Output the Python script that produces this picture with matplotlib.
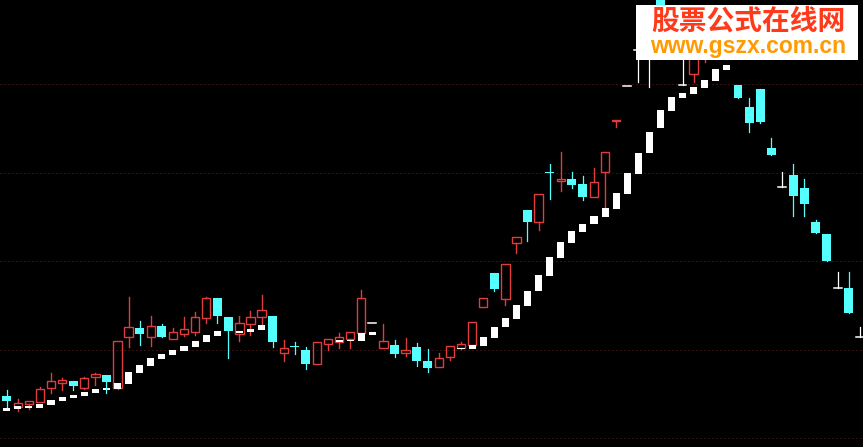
import matplotlib
matplotlib.use('Agg')
import matplotlib.pyplot as plt
from matplotlib.patches import Rectangle
import numpy as np

# K线数据 (价格单位: 图上高度)
opens = [51, 40, 43, 45, 59, 64, 66, 59, 70, 72,
         59, 110, 119, 110, 121, 108, 113, 115, 129, 149,
         130, 113, 123, 130, 131, 94, 100.6, 97, 83, 103,
         105, 108, 114, 124, 99, 102, 94, 100, 86, 80,
         90, 99, 102, 140, 174, 148, 204, 237, 225, 274.6,
         266, 268, 263, 250, 275, 326.4, 361, 397, 420, 450,
         400, 362, 373, 395, 425, 410, 362, 340, 358, 299,
         260, 272, 259, 225, 213, 159, 159, 110]
highs = [57, 48, 46, 60, 74, 69, 66, 70, 74, 72,
         106, 150, 126, 131, 123, 119, 130, 135, 150, 149,
         130, 131, 136, 152, 131, 107, 105, 100, 105, 108,
         114, 115, 157, 124, 123, 107, 109, 104, 98, 94,
         101, 105, 125, 149, 174, 183, 210, 237, 253, 283,
         295, 275, 271, 279, 295, 327.4, 361, 425, 430, 455,
         425, 405, 420, 430, 432, 415, 362, 349, 358, 309,
         275, 283, 268, 227, 213, 175, 175, 120]
lows = [40, 36, 38, 45, 54, 57, 57, 58, 62, 54,
        58, 100, 102, 101, 110, 108, 111, 112, 124, 124,
        89, 106, 112, 123, 100, 86, 93, 78, 83, 97,
        99, 99, 114, 124, 99, 90, 91, 81, 75, 80,
        87, 98, 102, 140, 156, 142, 194, 206, 217, 248,
        256, 259, 247, 250, 239, 320, 361, 365, 360, 400,
        395, 362, 365, 385, 395, 388, 349, 315, 324, 292,
        260, 231, 231, 214, 186, 159, 134, 110]
closes = [46, 44, 46, 58, 66, 67, 61, 69, 73, 65,
          106, 120, 113, 121, 110, 115, 118, 130, 149, 131,
          116, 124, 130, 137, 105, 99, 100, 83, 105, 108,
          110, 115, 149, 124, 106, 93, 97, 86, 79, 89,
          101, 103, 125, 149, 158, 183, 210, 225, 253, 274,
          268, 262, 250, 265, 295, 327.4, 361, 397, 420, 405,
          420, 362, 410, 420, 400, 392, 349, 324, 325, 292,
          260, 251, 243, 214, 186, 159, 134, 110]

# 白色指标块 (上沿/下沿, nan 表示无)
nan = np.nan
white_top = [39, 41, 41, 43, 47, 50, 52, 55, 58, 59,
             64, 75, 82, 89, 93, 97, 101, 106, 112, 116,
             nan, 116, 118, 122, nan, nan, nan, nan, nan, nan,
             107, 107, 114, 115, nan, nan, nan, nan, nan, nan,
             nan, 99, 102, 110, 120, 129, 142, 156, 172, 190,
             205, 216, 223, 231, 239, 254, 274, 294, 315, 337,
             350, 354, 360, 367, 378, 382]
white_bot = [36, 38, 39, 39, 42, 46, 49, 51, 54, 57,
             58, 63, 74, 81, 88, 92, 96, 100, 105, 111,
             nan, 114, 115, 117, nan, nan, nan, nan, nan, nan,
             105, 106, 106, 112, nan, nan, nan, nan, nan, nan,
             nan, 98, 98, 101, 109, 120, 128, 141, 156, 171,
             189, 204, 215, 223, 230, 238, 253, 273, 294, 319,
             336, 349, 353, 359, 366, 377]

grid_levels = [9.3, 97.5, 186.5, 274.3, 363]

RED = '#e03c3c'
CYAN = '#54ffff'
GRID = '#6a1c1c'

fig = plt.figure(figsize=(8.63, 4.47), dpi=100, facecolor='black')
ax = fig.add_axes([0, 0, 1, 1])
ax.set_facecolor('black')
ax.set_xlim(-0.605, 77.28)
ax.set_ylim(0, 447)
ax.axis('off')

# 虚线网格
for g in grid_levels:
    ax.axhline(g, color=GRID, lw=0.72, linestyle=(0, (1, 3)), zorder=1)

# 白色指标
for i in range(len(white_top)):
    if np.isnan(white_top[i]):
        continue
    h = max(white_top[i] - white_bot[i], 1.5)
    ax.add_patch(Rectangle((i - 0.32, white_bot[i]), 0.64, h,
                           facecolor='white', edgecolor='none', zorder=3))

# K线
bw = 0.76
for i in range(len(opens)):
    o, h, l, c = opens[i], highs[i], lows[i], closes[i]
    top, bot = max(o, c), min(o, c)
    if c > o:
        ax.add_patch(Rectangle((i - bw / 2, bot), bw, top - bot, facecolor='none',
                               edgecolor=RED, lw=1.0, zorder=2))
        if h > top:
            ax.plot([i, i], [top, h], color=RED, lw=1.0, zorder=2)
        if l < bot:
            ax.plot([i, i], [l, bot], color=RED, lw=1.0, zorder=2)
    elif c < o:
        ax.plot([i, i], [l, h], color=CYAN, lw=0.9, zorder=4)
        ax.add_patch(Rectangle((i - 0.4, bot), 0.8, max(top - bot, 1.2),
                               facecolor=CYAN, edgecolor='none', zorder=4))
    else:
        ax.plot([i, i], [l, h], color='white', lw=0.9, zorder=4)
        ax.plot([i - 0.35, i + 0.35], [o, o], color='white', lw=1.1, zorder=4)

# 水印
fig.patches.append(Rectangle((636 / 863, 1 - 60 / 447), 222 / 863, 55 / 447,
                             transform=fig.transFigure, facecolor='white',
                             edgecolor='none', zorder=10))
fig.text(748 / 863, 1 - 22 / 447, '股票公式在线网', color='#ff3a1a', fontsize=20,
         fontweight='bold', family=['Noto Sans CJK SC', 'DejaVu Sans'],
         ha='center', va='center', zorder=11)
fig.text(748 / 863, 1 - 47 / 447, 'www.gszx.com.cn', color='#ff9a00', fontsize=16.5,
         fontweight='bold', family=['Liberation Sans', 'DejaVu Sans'],
         ha='center', va='center', zorder=11)

fig.savefig('out.png', dpi=100, facecolor='black')
